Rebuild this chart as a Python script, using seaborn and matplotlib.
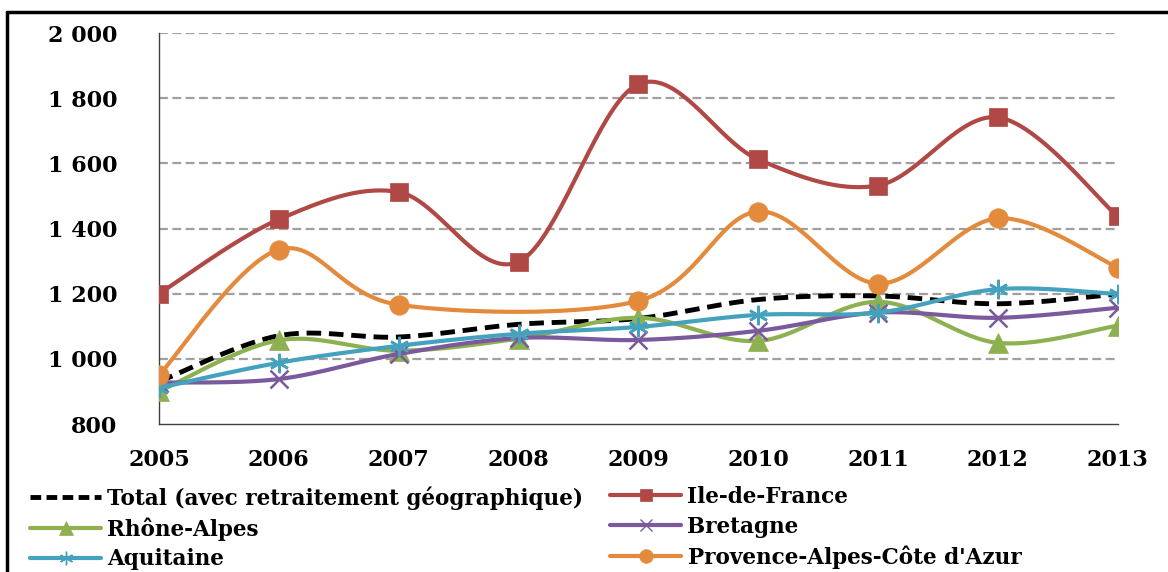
import numpy as np
import pandas as pd
import matplotlib
matplotlib.use("Agg")
import matplotlib.pyplot as plt
from matplotlib.lines import Line2D
import seaborn as sns

years = [2005, 2006, 2007, 2008, 2009, 2010, 2011, 2012, 2013]
total = [930, 1071, 1067, 1106, 1124, 1182, 1193, 1169, 1199]
idf = [1200, 1428, 1512, 1298, 1843, 1612, 1532, 1741, 1437]
rhone = [900, 1057, 1025, 1062, 1126, 1055, 1175, 1049, 1102]
bretagne = [927, 938, 1015, 1064, 1058, 1086, 1142, 1126, 1157]
aquitaine = [911, 988, 1040, 1077, 1098, 1135, 1142, 1214, 1199]
paca = [950, 1335, 1166, np.nan, 1178, 1452, 1231, 1431, 1280]

labels = ["Total (avec retraitement géographique)", "Ile-de-France", "Rhône-Alpes",
          "Bretagne", "Aquitaine", "Provence-Alpes-Côte d'Azur"]
yticks = [800, 1000, 1200, 1400, 1600, 1800, 2000]
ytick_labels = ["800", "1 000", "1 200", "1 400", "1 600", "1 800", "2 000"]

sns.set_theme(style="white")
FONT = ['DejaVu Serif', 'Liberation Serif']
plt.rcParams['font.family'] = FONT
plt.rcParams['font.weight'] = 'bold'
plt.rcParams['text.color'] = 'black'
FS = 16
LFS = 15.5

def smooth(xv, yv, n=40):
    x = np.asarray(xv, float); y = np.asarray(yv, float)
    m = ~np.isnan(y)
    x, y = x[m], y[m]
    P = np.column_stack([x, y])
    out = []
    for i in range(len(P) - 1):
        p_prev = P[i - 1] if i > 0 else P[i]
        p_next2 = P[i + 2] if i + 2 < len(P) else P[i + 1]
        b0 = P[i]; b3 = P[i + 1]
        b1 = b0 + (b3 - p_prev) / 6.0
        b2 = b3 - (p_next2 - b0) / 6.0
        t = np.linspace(0, 1, n)[:, None]
        seg = ((1 - t) ** 3) * b0 + 3 * ((1 - t) ** 2) * t * b1 + 3 * (1 - t) * t ** 2 * b2 + t ** 3 * b3
        out.append(seg if i == 0 else seg[1:])
    s = np.vstack(out)
    return s[:, 0], s[:, 1]

series = [total, idf, rhone, bretagne, aquitaine, paca]
colors = ["#000000", "#B04845", "#8DB050", "#7A5A9C", "#45A2BE", "#E48A3C"]
markers = [None, "s", "^", "x", (6, 2, 0), "o"]
msizes = [0, 13, 14, 13, 14, 14]

fig = plt.figure(figsize=(11.68, 5.72), dpi=100)
ax = fig.add_axes([0.1361, 0.2587, 0.957 - 0.1361, 0.9423 - 0.2587])

handles = []
for i, (vals, c, mk, ms, lab) in enumerate(zip(series, colors, markers, msizes, labels)):
    sx, sy = smooth(years, vals)
    df = pd.DataFrame({"x": sx, "y": sy})
    lw = 3.5 if i == 0 else 3.0
    sns.lineplot(data=df, x="x", y="y", sort=False, estimator=None, color=c, lw=lw,
                 ax=ax, zorder=3 + i)
    if i == 0:
        ax.lines[-1].set_dashes([3, 1.6])
    if mk is not None:
        mew = 1.8 if mk == "x" or isinstance(mk, tuple) else 0.5
        ax.plot(years, vals, linestyle="none", marker=mk, markersize=ms, color=c,
                markeredgecolor=c, markeredgewidth=mew, zorder=3 + i)
        h = Line2D([], [], color=c, lw=lw, marker=mk, markersize=ms * 0.7,
                   markeredgecolor=c, markeredgewidth=1.0 if mew > 1 else 0.5)
    else:
        h = Line2D([], [], color="black", lw=3.5, dashes=[2.2, 1.1])
    handles.append(h)

ax.set_xlim(2005, 2013)
ax.set_ylim(800, 2000)
ax.set_xticks(years)
ax.set_xticklabels([str(y) for y in years], fontsize=FS, fontweight="bold")
ax.set_yticks(yticks)
ax.set_yticklabels(ytick_labels, fontsize=FS, fontweight="bold")
ax.set_xlabel(""); ax.set_ylabel("")
for y in yticks[1:]:
    ax.axhline(y, color="#A0A0A0", lw=1.6, ls=(0, (4, 2)), zorder=1)
for s in ["top", "right"]:
    ax.spines[s].set_visible(False)
for s in ["left", "bottom"]:
    ax.spines[s].set_color("#404040")
    ax.spines[s].set_linewidth(1.0)
ax.tick_params(axis="both", which="both", direction="out", length=6, width=1.0,
               color="#404040", labelcolor="#000000")
ax.tick_params(axis="y", pad=24)
ax.tick_params(axis="x", pad=12)
ax.set_facecolor("white")

leg_kw = dict(loc="upper left", frameon=False, fontsize=LFS, handlelength=3.3,
              handletextpad=0.3, labelspacing=0.36, borderaxespad=0, borderpad=0,
              labelcolor="black")
col1 = [0, 2, 4]
col2 = [1, 3, 5]
fig.legend(handles=[handles[i] for i in col1], labels=[labels[i] for i in col1],
           bbox_to_anchor=(30 / 1168, 1 - 486 / 572), **leg_kw)
fig.legend(handles=[handles[i] for i in col2], labels=[labels[i] for i in col2],
           bbox_to_anchor=(610 / 1168, 1 - 486 / 572), **leg_kw)

fig.add_artist(Line2D([0.006, 1.0], [1 - 12 / 572, 1 - 12 / 572], color="black", lw=2.5,
                      transform=fig.transFigure))
fig.add_artist(Line2D([7 / 1168, 7 / 1168], [0, 1 - 12 / 572], color="black", lw=2.5,
                      transform=fig.transFigure))

fig.savefig("out.png", dpi=100, facecolor="white")
